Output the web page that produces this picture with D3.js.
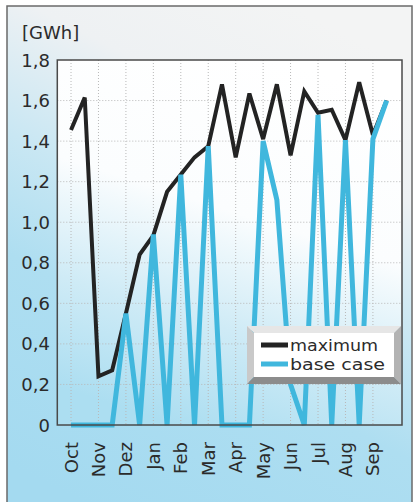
<!DOCTYPE html>
<html>
<head>
<meta charset="utf-8">
<script src="https://cdn.jsdelivr.net/npm/d3@7"></script>
<style>
html,body{margin:0;padding:0;background:#fff;}
svg{display:block;}
text{font-family:"DejaVu Sans",sans-serif;fill:#2b2b2b;}
</style>
</head>
<body>
<svg id="chart" width="415" height="502"></svg>
<script>
// Data (half-month steps, Oct .. Sep)
const months = ["Oct","Nov","Dez","Jan","Feb","Mar","Apr","May","Jun","Jul","Aug","Sep"];
const yTicks = [0,0.2,0.4,0.6,0.8,1.0,1.2,1.4,1.6,1.8];
const maximum = [1.455,1.615,0.24,0.27,0.55,0.84,0.935,1.15,1.235,1.32,1.375,1.68,
                 1.32,1.635,1.41,1.68,1.33,1.645,1.54,1.555,1.405,1.69,1.43,1.6];
const baseCase = [0,0,0,0,0.55,0,0.94,0,1.235,0,1.375,0,
                  0,0,1.40,1.11,0.2,0,1.53,0,1.405,0,1.41,1.6];
const seriesNames = ["maximum","base case"];
const unitLabel = "[GWh]";

const svg = d3.select("#chart");
const defs = svg.append("defs");

const outerG = defs.append("linearGradient").attr("id","outerG")
  .attr("x1","0.7").attr("y1","0").attr("x2","0.3").attr("y2","1");
[[0,"#f3f4f4"],[0.22,"#eef1f3"],[0.45,"#c9e7f3"],[0.65,"#aedef1"],[1,"#a4daf0"]]
  .forEach(s=>outerG.append("stop").attr("offset",s[0]).attr("stop-color",s[1]));

const innerG = defs.append("linearGradient").attr("id","innerG")
  .attr("x1","0.65").attr("y1","0").attr("x2","0.35").attr("y2","1");
[[0,"#ffffff"],[0.42,"#fbfdfe"],[0.72,"#cfebf6"],[1,"#acdef1"]]
  .forEach(s=>innerG.append("stop").attr("offset",s[0]).attr("stop-color",s[1]));

// panel
svg.append("rect").attr("x",7).attr("y",6).attr("width",405).attr("height",520)
  .attr("fill","url(#outerG)").attr("stroke","#6a6a6a").attr("stroke-width",1.5);

const L=57.3, R=402, T=60, B=425;
const x = d3.scaleLinear().domain([-0.5,12.06]).range([L,R]);
const y = d3.scaleLinear().domain([0,1.8]).range([B,T]);

svg.append("rect").attr("x",L).attr("y",T).attr("width",R-L).attr("height",B-T)
  .attr("fill","url(#innerG)");

// grid
svg.append("g").selectAll("line").data(months).join("line")
  .attr("x1",(d,i)=>x(i)).attr("x2",(d,i)=>x(i)).attr("y1",T).attr("y2",B)
  .attr("stroke","#b8b8b8").attr("stroke-width",1).attr("stroke-dasharray","1,2");
svg.append("g").selectAll("line").data(yTicks.slice(1,-1)).join("line")
  .attr("x1",L).attr("x2",R).attr("y1",d=>y(d)).attr("y2",d=>y(d))
  .attr("stroke","#b8b8b8").attr("stroke-width",1).attr("stroke-dasharray","1,2");

// y axis labels
const fmt = d => d===0 ? "0" : d3.format(".1f")(d).replace(".",",");
svg.append("g").selectAll("text").data(yTicks).join("text")
  .attr("x",50).attr("y",d=>y(d)+6.5).attr("text-anchor","end")
  .attr("font-size",18).text(fmt);
svg.append("text").attr("x",22).attr("y",39).attr("font-size",18).text(unitLabel);

// x labels
svg.append("g").selectAll("text").data(months).join("text")
  .attr("transform",(d,i)=>`translate(${x(i)+6.5},442) rotate(-90)`)
  .attr("text-anchor","end").attr("font-size",18).text(d=>d);

// lines
const line = d3.line().x((d,i)=>x(i/2)).y(d=>y(d));
svg.append("path").datum(maximum).attr("d",line).attr("fill","none")
  .attr("stroke","#232323").attr("stroke-width",4).attr("stroke-linejoin","miter").attr("stroke-miterlimit",3);
svg.append("path").datum(baseCase).attr("d",line).attr("fill","none")
  .attr("stroke","#40b7dd").attr("stroke-width",5).attr("stroke-linejoin","miter").attr("stroke-miterlimit",3);

// plot border
svg.append("rect").attr("x",L).attr("y",T).attr("width",R-L).attr("height",B-T)
  .attr("fill","none").attr("stroke","#4a4a4a").attr("stroke-width",1.5);

// legend with bevel
const lx0=247, ly0=326, lx1=401, ly1=384, bw=7;
const lg = svg.append("g");
const poly = pts => lg.append("polygon").attr("points",pts.map(p=>p.join(",")).join(" "));
poly([[lx0,ly0],[lx1,ly0],[lx1-bw,ly0+bw],[lx0+bw,ly0+bw]]).attr("fill","#e6e6e6");
poly([[lx0,ly0],[lx0+bw,ly0+bw],[lx0+bw,ly1-bw],[lx0,ly1]]).attr("fill","#c9c9c9");
poly([[lx1,ly0],[lx1,ly1],[lx1-bw,ly1-bw],[lx1-bw,ly0+bw]]).attr("fill","#b3b3b3");
poly([[lx0,ly1],[lx0+bw,ly1-bw],[lx1-bw,ly1-bw],[lx1,ly1]]).attr("fill","#8c8c8c");
lg.append("rect").attr("x",lx0+bw).attr("y",ly0+bw).attr("width",lx1-lx0-2*bw).attr("height",ly1-ly0-2*bw)
  .attr("fill","#ffffff");
const legColors = ["#232323","#40b7dd"];
const legWidths = [88,95];
seriesNames.forEach((n,i)=>{
  const by = 351 + i*19;
  lg.append("line").attr("x1",261).attr("x2",288).attr("y1",by-6).attr("y2",by-6)
    .attr("stroke",legColors[i]).attr("stroke-width",5);
  lg.append("text").attr("x",290).attr("y",by).attr("font-size",16)
    .attr("textLength",legWidths[i]).attr("lengthAdjust","spacingAndGlyphs").text(n);
});
</script>
</body>
</html>
